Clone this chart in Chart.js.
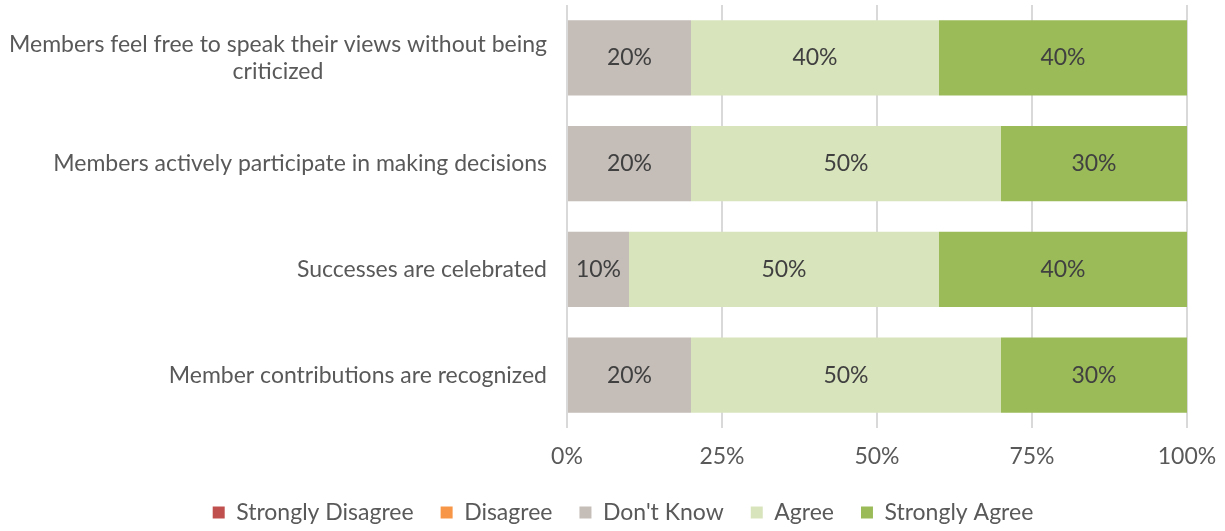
<!DOCTYPE html>
<html>
<head>
<meta charset="utf-8">
<script src="https://cdn.jsdelivr.net/npm/chart.js@4/dist/chart.umd.min.js"></script>
<style>
  body { margin: 0; background: #fff; }
  #wrap { width: 1225px; height: 531px; }
</style>
</head>
<body>
<div id="wrap"><canvas id="survey-chart" width="1225" height="531"></canvas></div>
<script>
// survey statements and response shares (percent)
const statements = [
    ['Members feel free to speak their views without being', 'criticized'],
    'Members actively participate in making decisions',
    'Successes are celebrated',
    'Member contributions are recognized'
];
const stronglyDisagree = [0, 0, 0, 0];
const disagree = [0, 0, 0, 0];
const dontKnow = [20, 20, 10, 20];
const agree = [40, 50, 50, 50];
const stronglyAgree = [40, 30, 40, 30];
const xTicks = [0, 25, 50, 75, 100];

const FONT = 'Lato, "Open Sans", sans-serif';
const TEXT = '#595959';

// category labels: right aligned block, extra lines centred under the first
const yLabels = {
    id: 'yLabels',
    afterDraw(chart) {
        const c = chart.ctx;
        const y = chart.scales.y;
        const right = chart.chartArea.left - 20;
        c.save();
        c.font = '23px ' + FONT;
        c.fillStyle = TEXT;
        c.textAlign = 'center';
        c.textBaseline = 'middle';
        statements.forEach((s, i) => {
            const lines = Array.isArray(s) ? s : [s];
            const w = Math.max(...lines.map(l => c.measureText(l).width));
            const py = y.getPixelForValue(i);
            lines.forEach((l, j) => {
                c.fillText(l, right - w / 2, py + (j - (lines.length - 1) / 2) * 27);
            });
        });
        c.restore();
    }
};

// percentage labels in the middle of each segment
const barLabels = {
    id: 'barLabels',
    afterDatasetsDraw(chart) {
        const c = chart.ctx;
        c.save();
        c.font = '23px ' + FONT;
        c.fillStyle = '#404040';
        c.textAlign = 'center';
        c.textBaseline = 'middle';
        chart.data.datasets.forEach((ds, di) => {
            chart.getDatasetMeta(di).data.forEach((bar, i) => {
                const v = ds.data[i];
                if (!v) return;
                const p = bar.getCenterPoint();
                c.fillText(v + '%', p.x, p.y);
            });
        });
        c.restore();
    }
};

new Chart(document.getElementById('survey-chart'), {
    type: 'bar',
    data: {
        labels: statements,
        datasets: [
            { label: 'Strongly Disagree', data: stronglyDisagree, backgroundColor: '#c0504d' },
            { label: 'Disagree', data: disagree, backgroundColor: '#f79646' },
            { label: "Don't Know", data: dontKnow, backgroundColor: '#c4bdb8' },
            { label: 'Agree', data: agree, backgroundColor: '#d8e4bc' },
            { label: 'Strongly Agree', data: stronglyAgree, backgroundColor: '#9bbb59' }
        ]
    },
    options: {
        indexAxis: 'y',
        responsive: false,
        animation: false,
        barPercentage: 0.71,
        categoryPercentage: 1,
        layout: { padding: { left: 22, right: 1, top: 5, bottom: -3 } },
        scales: {
            x: {
                stacked: true,
                min: 0,
                max: 100,
                afterBuildTicks: axis => { axis.ticks = xTicks.map(v => ({ value: v })); },
                afterFit: axis => { axis.height = 46; axis.paddingRight = 38; },
                grid: { color: '#d9d9d9', lineWidth: 2, drawTicks: false },
                border: { display: false },
                ticks: {
                    padding: 15,
                    color: TEXT,
                    font: { family: FONT, size: 23 },
                    callback: v => v + '%'
                }
            },
            y: {
                stacked: true,
                grid: { display: false },
                border: { display: false },
                ticks: { display: false },
                afterFit: axis => { axis.width = 545; }
            }
        },
        plugins: {
            tooltip: { enabled: false },
            legend: {
                position: 'bottom',
                labels: {
                    boxWidth: 12,
                    boxHeight: 12,
                    padding: 27,
                    color: TEXT,
                    font: { family: FONT, size: 23 }
                }
            }
        }
    },
    plugins: [yLabels, barLabels]
});
</script>
</body>
</html>
